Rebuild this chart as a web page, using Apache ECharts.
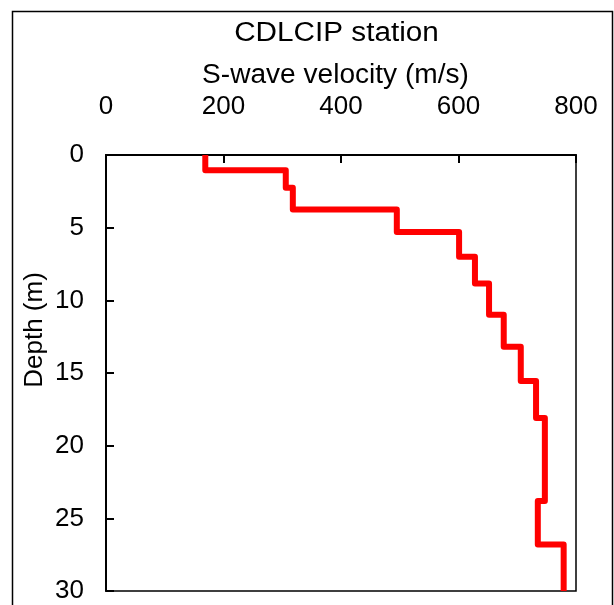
<!DOCTYPE html>
<html>
<head>
<meta charset="utf-8">
<script src="https://cdn.jsdelivr.net/npm/echarts@6/dist/echarts.min.js"></script>
<style>
  html, body { margin: 0; padding: 0; background: #fff; }
  #chart { width: 614px; height: 605px; }
</style>
</head>
<body>
<div id="chart"></div>
<script>
// Layered S-wave velocity profile: each layer has a top depth (m) and a velocity (m/s)
const layerTops = [0, 1.05, 2.25, 3.75, 5.3, 7.0, 8.85, 11.0, 13.2, 15.55, 18.1, 23.8, 26.8];
const profileBottom = 30;
const vsValues = [169, 306, 318, 495, 601, 628, 652, 677, 706, 732, 747, 735, 779];

// Axis tick values
const velocityTicks = [0, 200, 400, 600, 800];
const depthTicks = [0, 5, 10, 15, 20, 25, 30];

const titleText = 'CDLCIP station';
const xName = 'S-wave velocity (m/s)';
const yName = 'Depth (m)';

// Staircase points: each layer is a vertical segment at its velocity
const profile = [];
vsValues.forEach((v, i) => {
  const top = layerTops[i];
  const bottom = i + 1 < layerTops.length ? layerTops[i + 1] : profileBottom;
  profile.push([v, top]);
  profile.push([v, bottom]);
});

const FONT = '"Liberation Sans", Arial, Helvetica, sans-serif';

const chart = echarts.init(document.getElementById('chart'), null, { renderer: 'canvas' });

chart.setOption({
  backgroundColor: '#ffffff',
  animation: false,
  grid: {
    left: 106, top: 155, width: 470, height: 436,
    show: true, borderColor: '#000', borderWidth: 1.5, backgroundColor: 'transparent'
  },
  xAxis: {
    type: 'value',
    position: 'top',
    min: velocityTicks[0],
    max: velocityTicks[velocityTicks.length - 1],
    interval: velocityTicks[1] - velocityTicks[0],
    splitLine: { show: false },
    axisLine: { show: true, lineStyle: { color: '#000', width: 2 } },
    axisTick: { show: true, inside: true, length: 8, lineStyle: { color: '#000', width: 2 } },
    axisLabel: { fontFamily: FONT, fontSize: 26, color: '#000', margin: 35 }
  },
  yAxis: {
    type: 'value',
    inverse: true,
    min: depthTicks[0],
    max: depthTicks[depthTicks.length - 1],
    interval: depthTicks[1] - depthTicks[0],
    splitLine: { show: false },
    axisLine: { show: true, lineStyle: { color: '#000', width: 2 } },
    axisTick: { show: true, inside: true, length: 8, lineStyle: { color: '#000', width: 2 } },
    axisLabel: { fontFamily: FONT, fontSize: 26, color: '#000', margin: 22 }
  },
  graphic: [
    {
      type: 'rect',
      silent: true,
      shape: { x: 12.5, y: 11.5, width: 600, height: 620 },
      style: { fill: null, stroke: '#000', lineWidth: 1.5 }
    },
    {
      // chart title
      type: 'text',
      silent: true,
      x: 336.5, y: 34,
      scaleX: 1.1,
      style: {
        text: titleText, fontFamily: FONT, fontSize: 27, fill: '#000',
        textAlign: 'center', textVerticalAlign: 'middle'
      }
    },
    {
      // x-axis name
      type: 'text',
      silent: true,
      x: 335.5, y: 76,
      scaleX: 1.04,
      style: {
        text: xName, fontFamily: FONT, fontSize: 27, fill: '#000',
        textAlign: 'center', textVerticalAlign: 'middle'
      }
    },
    {
      // y-axis name
      type: 'text',
      silent: true,
      x: 35, y: 330,
      rotation: Math.PI / 2,
      style: {
        text: yName, fontFamily: FONT, fontSize: 26, fill: '#000',
        textAlign: 'center', textVerticalAlign: 'middle'
      }
    }
  ],
  series: [
    {
      type: 'line',
      data: profile,
      showSymbol: false,
      symbol: 'none',
      clip: false,
      lineStyle: { color: '#ff0000', width: 6, join: 'round', cap: 'butt' },
      z: 3
    }
  ]
});
</script>
</body>
</html>
